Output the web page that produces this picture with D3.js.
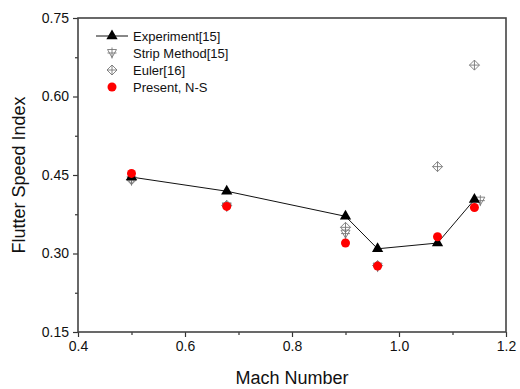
<!DOCTYPE html>
<html>
<head>
<meta charset="utf-8">
<script src="https://cdn.jsdelivr.net/npm/d3@7"></script>
<style>
  body { margin: 0; background: #fff; }
  text { font-family: "Liberation Sans", Arial, sans-serif; }
</style>
</head>
<body>
<div id="chart"></div>
<script>
// data
var machExp = [0.5, 0.678, 0.9, 0.96, 1.072, 1.141];
var fsiExp = [0.446, 0.419, 0.371, 0.309, 0.320, 0.403];

var machStrip = [0.5, 0.678, 0.9, 0.96, 1.152];
var fsiStrip = [0.440, 0.390, 0.338, 0.275, 0.401];

var machEuler = [0.5, 0.678, 0.9, 0.96, 1.072, 1.141];
var fsiEuler = [0.441, 0.392, 0.350, 0.277, 0.466, 0.660];

var machNS = [0.5, 0.678, 0.9, 0.96, 1.072, 1.141];
var fsiNS = [0.453, 0.390, 0.320, 0.276, 0.332, 0.388];

var xTicks = [0.4, 0.6, 0.8, 1.0, 1.2];
var yTicks = [0.15, 0.30, 0.45, 0.60, 0.75];

var legendLabels = ["Experiment[15]", "Strip Method[15]", "Euler[16]", "Present, N-S"];

var W = 520, H = 389;
var margin = { top: 18, right: 14, bottom: 57, left: 78 };
var width = W - margin.left - margin.right;
var height = H - margin.top - margin.bottom;

var svg = d3.select("#chart").append("svg")
    .attr("width", W)
    .attr("height", H);

var g = svg.append("g")
    .attr("transform", "translate(" + margin.left + "," + margin.top + ")");

var x = d3.scaleLinear().domain([0.4, 1.2]).range([0, width]);
var y = d3.scaleLinear().domain([0.15, 0.75]).range([height, 0]);

// minor ticks
var xMinor = d3.range(0.5, 1.2, 0.2);
var yMinor = d3.range(0.225, 0.75, 0.15);

g.append("g")
    .attr("transform", "translate(0," + height + ")")
    .call(d3.axisBottom(x).tickValues(xMinor).tickSize(3).tickFormat(""))
    .call(a => a.select(".domain").remove());
g.append("g")
    .call(d3.axisLeft(y).tickValues(yMinor).tickSize(3).tickFormat(""))
    .call(a => a.select(".domain").remove());

var xAxis = g.append("g")
    .attr("transform", "translate(0," + height + ")")
    .call(d3.axisBottom(x).tickValues(xTicks).tickSize(5).tickPadding(4).tickFormat(d3.format(".1f")));
xAxis.select(".domain").remove();
xAxis.selectAll("text").attr("font-size", 14).attr("fill", "#111");

var yAxis = g.append("g")
    .call(d3.axisLeft(y).tickValues(yTicks).tickSize(5).tickPadding(4).tickFormat(d3.format(".2f")));
yAxis.select(".domain").remove();
yAxis.selectAll("text").attr("font-size", 14).attr("fill", "#111");

g.selectAll(".tick line").attr("stroke", "#333").attr("stroke-width", 1.2);

// frame
g.append("rect")
    .attr("width", width)
    .attr("height", height)
    .attr("fill", "none")
    .attr("stroke", "#444")
    .attr("stroke-width", 1.6);

// axis titles
svg.append("text")
    .attr("x", margin.left + width / 2)
    .attr("y", 384)
    .attr("text-anchor", "middle")
    .attr("font-size", 18)
    .attr("fill", "#111")
    .text("Mach Number");

svg.append("text")
    .attr("transform", "translate(25," + (margin.top + height / 2) + ") rotate(-90)")
    .attr("text-anchor", "middle")
    .attr("font-size", 18)
    .attr("fill", "#111")
    .text("Flutter Speed Index");

// marker shapes
var triPath = d3.symbol().type(d3.symbolTriangle).size(55)();

function stripMarker(sel) {
  // open down triangle with a cross
  sel.append("path")
      .attr("d", "M-4.5,-3.5 L4.5,-3.5 L0,4.5 Z M0,-5.5 L0,5.5 M-4.5,0 L4.5,0")
      .attr("fill", "none")
      .attr("stroke", "#777")
      .attr("stroke-width", 0.9);
}
function eulerMarker(sel) {
  // open diamond with a cross
  sel.append("path")
      .attr("d", "M0,-5 L5,0 L0,5 L-5,0 Z M0,-5 L0,5 M-5,0 L5,0")
      .attr("fill", "none")
      .attr("stroke", "#777")
      .attr("stroke-width", 0.9);
}

var expData = machExp.map((m, i) => [m, fsiExp[i]]);
var stripData = machStrip.map((m, i) => [m, fsiStrip[i]]);
var eulerData = machEuler.map((m, i) => [m, fsiEuler[i]]);
var nsData = machNS.map((m, i) => [m, fsiNS[i]]);

var line = d3.line().x(d => x(d[0])).y(d => y(d[1]));

g.append("path")
    .datum(expData)
    .attr("d", line)
    .attr("fill", "none")
    .attr("stroke", "#111")
    .attr("stroke-width", 1);

g.selectAll(".strip")
    .data(stripData)
  .enter().append("g")
    .attr("class", "strip")
    .attr("transform", d => "translate(" + x(d[0]) + "," + y(d[1]) + ")")
    .call(stripMarker);

g.selectAll(".euler")
    .data(eulerData)
  .enter().append("g")
    .attr("class", "euler")
    .attr("transform", d => "translate(" + x(d[0]) + "," + y(d[1]) + ")")
    .call(eulerMarker);

g.selectAll(".exp")
    .data(expData)
  .enter().append("path")
    .attr("class", "exp")
    .attr("d", triPath)
    .attr("transform", d => "translate(" + x(d[0]) + "," + y(d[1]) + ")")
    .attr("fill", "#000");

g.selectAll(".ns")
    .data(nsData)
  .enter().append("circle")
    .attr("class", "ns")
    .attr("cx", d => x(d[0]))
    .attr("cy", d => y(d[1]))
    .attr("r", 4.5)
    .attr("fill", "#f00");

// legend
var legend = svg.append("g").attr("transform", "translate(96,36)");
var rowH = 17;

legendLabels.forEach(function(lab, i) {
  var row = legend.append("g").attr("transform", "translate(0," + (i * rowH) + ")");
  var mk = row.append("g").attr("transform", "translate(16,0)");
  if (i === 0) {
    row.append("line").attr("x1", 0).attr("x2", 32).attr("y1", 0).attr("y2", 0)
        .attr("stroke", "#111").attr("stroke-width", 1);
    mk.append("path").attr("d", triPath).attr("fill", "#000");
  } else if (i === 1) {
    mk.call(stripMarker);
  } else if (i === 2) {
    mk.call(eulerMarker);
  } else {
    mk.append("circle").attr("r", 4.5).attr("fill", "#f00");
  }
  row.append("text")
      .attr("x", 37)
      .attr("y", 0)
      .attr("dy", "0.35em")
      .attr("font-size", 13)
      .attr("fill", "#111")
      .text(lab);
});
</script>
</body>
</html>
